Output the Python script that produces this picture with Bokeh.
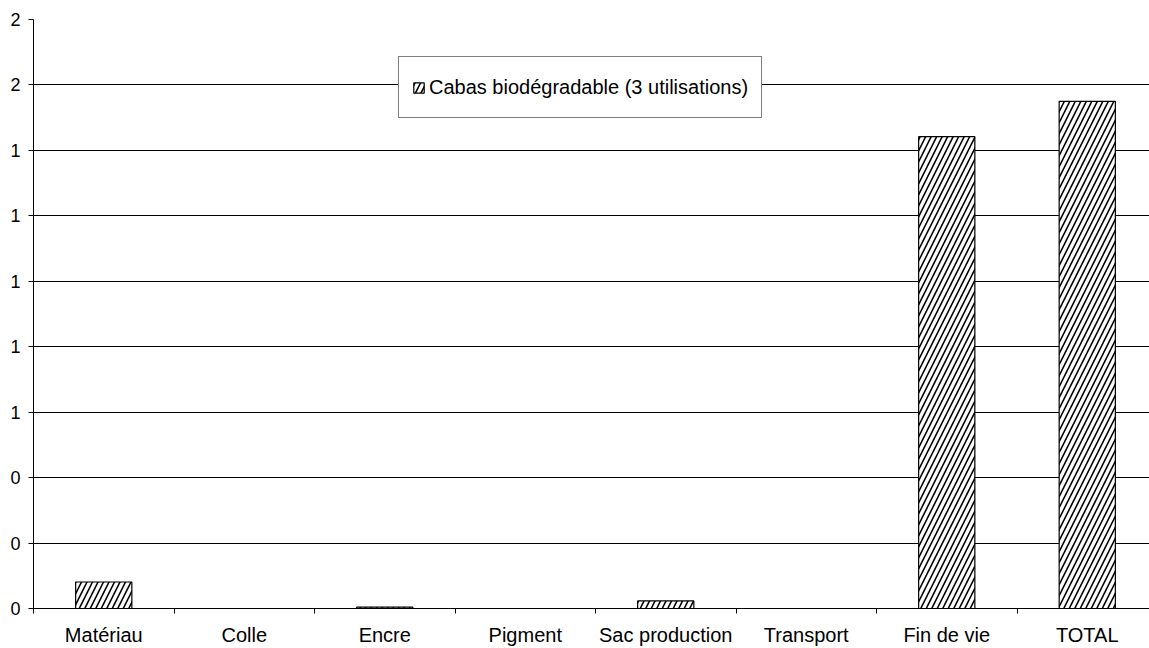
from bokeh.plotting import figure
from bokeh.models import (ColumnDataSource, FixedTicker, NumeralTickFormatter,
                          Legend, LegendItem, Range1d)
from bokeh.embed import file_html
from bokeh.resources import INLINE

# Impact per life-cycle stage
categories = ["Matériau", "Colle", "Encre", "Pigment", "Sac production",
              "Transport", "Fin de vie", "TOTAL"]
values = [0.081, 0.0, 0.004, 0.0, 0.023, 0.0, 1.442, 1.55]
series_name = "Cabas biodégradable (3 utilisations)"
y_ticks = [0.0, 0.2, 0.4, 0.6, 0.8, 1.0, 1.2, 1.4, 1.6, 1.8]

FONT = "Liberation Sans"

centers = [i + 0.5 for i in range(len(categories))]
source = ColumnDataSource(dict(x=centers, top=values, cat=categories))

p = figure(width=1149, height=648, output_backend="svg", toolbar_location=None,
           x_range=Range1d(0, 7.943), y_range=Range1d(0, 1.8),
           min_border_left=33, min_border_right=0, min_border_top=19,
           min_border_bottom=39)
p.outline_line_color = None
p.background_fill_color = "white"
p.border_fill_color = "white"

bars = p.vbar(x="x", top="top", bottom=0, width=0.4, source=source,
              fill_color="white", line_color="black", line_width=1.2,
              hatch_pattern="/", hatch_color="black", hatch_scale=11,
              hatch_weight=1.6)

# x axis: labels centred on categories, ticks on the boundaries
xa = p.xaxis[0]
xa.ticker = FixedTicker(ticks=centers,
                        minor_ticks=list(range(len(categories) + 1)))
xa.major_label_overrides = {c: lab for c, lab in zip(centers, categories)}
xa.major_tick_line_color = None
xa.minor_tick_line_color = "black"
xa.minor_tick_out = 5
xa.minor_tick_in = 0
xa.axis_line_color = "black"
xa.major_label_text_font = FONT
xa.major_label_text_font_size = "20px"
xa.major_label_text_color = "black"
xa.major_label_standoff = 9

ya = p.yaxis[0]
ya.ticker = FixedTicker(ticks=y_ticks)
ya.formatter = NumeralTickFormatter(format="0")
ya.major_tick_out = 5
ya.major_tick_in = 0
ya.minor_tick_line_color = None
ya.axis_line_color = "black"
ya.major_tick_line_color = "black"
ya.major_label_text_font = FONT
ya.major_label_text_font_size = "18px"
ya.major_label_text_color = "black"
ya.major_label_standoff = 8

p.xgrid.grid_line_color = None
p.ygrid.grid_line_color = "black"
p.ygrid.grid_line_width = 1
p.ygrid.ticker = FixedTicker(ticks=y_ticks)

legend = Legend(items=[LegendItem(label=series_name, renderers=[bars])],
                location=(365, 490), orientation="vertical",
                border_line_color="black", border_line_width=1,
                background_fill_color="white", background_fill_alpha=1.0,
                glyph_width=13, glyph_height=13, padding=13, label_height=34,
                label_width=317, label_standoff=4, spacing=0, margin=0,
                label_text_font=FONT, label_text_font_size="20px",
                label_text_color="black")
p.add_layout(legend, "center")

open("out.html", "w").write(file_html(p, INLINE))
